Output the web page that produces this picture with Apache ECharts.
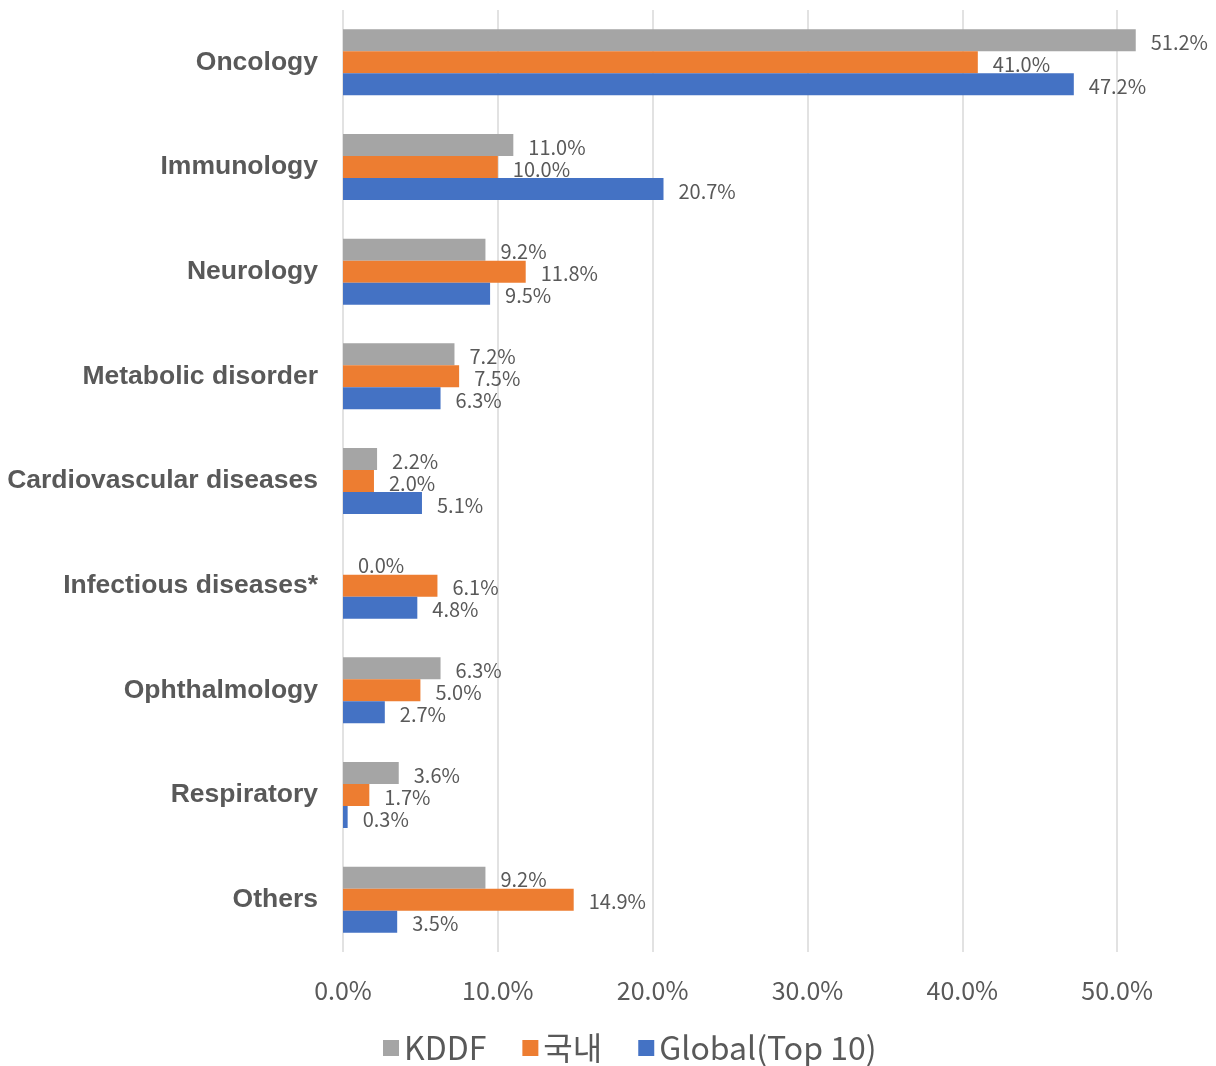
<!DOCTYPE html>
<html><head><meta charset="utf-8">
<script src="https://cdn.jsdelivr.net/npm/echarts@6/dist/echarts.min.js"></script>
<style>html,body{margin:0;padding:0;background:#fff}#c{width:1216px;height:1066px}</style>
</head><body><div id="c"></div>
<script>
const categories = ["Oncology","Immunology","Neurology","Metabolic disorder","Cardiovascular diseases","Infectious diseases*","Ophthalmology","Respiratory","Others"];
const seriesNames = ["KDDF","국내","Global(Top 10)"];
const kddf = [51.2,11.0,9.2,7.2,2.2,0.0,6.3,3.6,9.2];
const domestic = [41.0,10.0,11.8,7.5,2.0,6.1,5.0,1.7,14.9];
const global10 = [47.2,20.7,9.5,6.3,5.1,4.8,2.7,0.3,3.5];
const xTicks = [0,10,20,30,40,50,60];

const colors = ["#a5a5a5","#ed7d31","#4472c4"];
const font = "'Noto Sans CJK KR', 'Noto Sans', sans-serif";
const chart = echarts.init(document.getElementById('c'));
function mk(name, data, color){
  return {
    name, type:'bar', data, barWidth:22, barGap:'0%',
    itemStyle:{color},
    label:{show:true, position:'right', distance:15, color:'#595959', fontSize:20, fontFamily:font,
      offset:[0,2], formatter:p=>p.value.toFixed(1)+'%'}
  };
}
chart.setOption({
  animation:false,
  grid:{left:343, top:10, height:942, width:929, containLabel:false, outerBoundsMode:'none'},
  legend:{data:seriesNames, top:1027, left:378, icon:'rect', itemWidth:16, itemHeight:16, itemGap:36, padding:[5,5,5,5],
    textStyle:{color:'#595959', fontSize:32, fontFamily:font}},
  xAxis:{type:'value', min:xTicks[0], max:xTicks[xTicks.length-1], interval:10,
    axisLine:{show:false}, axisTick:{show:false},
    splitLine:{show:true, lineStyle:{color:'#d9d9d9', width:1.5}},
    axisLabel:{color:'#595959', fontSize:25, fontFamily:font, margin:26, formatter:v=>v.toFixed(1)+'%'}},
  yAxis:{type:'category', data:categories, inverse:true,
    axisLine:{show:false}, axisTick:{show:false},
    axisLabel:{color:'#595959', fontSize:26.5, fontWeight:'bold', fontFamily:"'Liberation Sans', Arial, sans-serif", margin:25}},
  series:[mk(seriesNames[0],kddf,colors[0]), mk(seriesNames[1],domestic,colors[1]), mk(seriesNames[2],global10,colors[2])]
});
</script></body></html>
